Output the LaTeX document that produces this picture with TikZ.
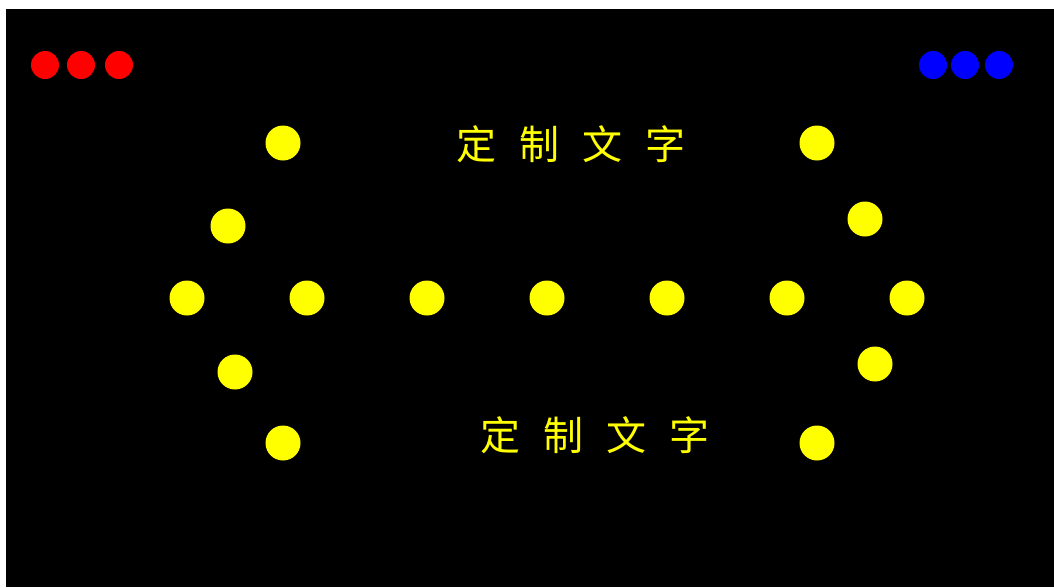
\documentclass[tikz,border=0pt]{standalone}
\usepackage{fontspec}
\usepackage{xcolor}
\newfontfamily\cjk[WordSpace={2.6,0,0}]{Noto Sans CJK SC}
\definecolor{lampred}{RGB}{255,0,0}
\definecolor{lampblue}{RGB}{0,0,255}
\definecolor{lampyellow}{RGB}{255,255,0}

\begin{document}
\begin{tikzpicture}[x=1pt,y=-1pt,
  reddot/.style={circle,fill=lampred,inner sep=0pt,minimum size=28pt},
  bluedot/.style={circle,fill=lampblue,inner sep=0pt,minimum size=28pt},
  ydot/.style={circle,fill=lampyellow,inner sep=0pt,minimum size=35pt},
  ytext/.style={text=lampyellow,inner sep=0pt,font=\cjk\fontsize{40}{40}\selectfont}]
				\useasboundingbox (0,0) rectangle (1054,587);
				% Panel
				\fill[black] (6,9) rectangle (1054,587);
				
				% Red lights
				\node[reddot] (r1) at (45,65) {};
				\node[reddot] (r2) at (81,65) {};
				\node[reddot] (r3) at (119,65) {};
				
				% Blue lights
				\node[bluedot] (b1) at (933,65) {};
				\node[bluedot] (b2) at (965,65) {};
				\node[bluedot] (b3) at (999,65) {};
				
				% Left ring
				\node[ydot] (l1) at (283,143) {};
				\node[ydot] (l2) at (228,226) {};
				\node[ydot] (l3) at (187,298) {};
				\node[ydot] (l4) at (235,372) {};
				\node[ydot] (l5) at (283,443) {};
				
				% Middle row
				\node[ydot] (m1) at (307,298) {};
				\node[ydot] (m2) at (427,298) {};
				\node[ydot] (m3) at (547,298) {};
				\node[ydot] (m4) at (667,298) {};
				\node[ydot] (m5) at (787,298) {};
				
				% Right ring
				\node[ydot] (q1) at (817,143) {};
				\node[ydot] (q2) at (865,219) {};
				\node[ydot] (q3) at (907,298) {};
				\node[ydot] (q4) at (875,364) {};
				\node[ydot] (q5) at (817,443) {};
				
				% Texts
				\node[ytext] (top) at (571,144) {定 制 文 字};
				\node[ytext] (bottom) at (595,435) {定 制 文 字};
\end{tikzpicture}
\end{document}
